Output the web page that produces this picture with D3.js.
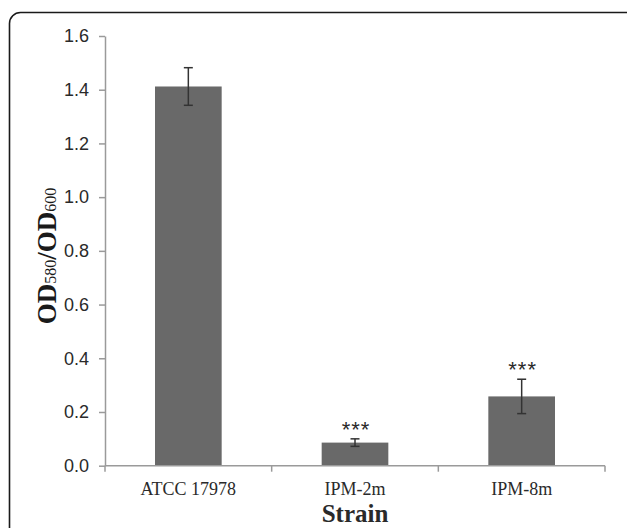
<!DOCTYPE html>
<html>
<head>
<meta charset="utf-8">
<script src="https://cdn.jsdelivr.net/npm/d3@7"></script>
<style>
body { margin: 0; background: #fff; }
</style>
</head>
<body>
<div id="chart"></div>
<script>
// data
var strains = ["ATCC 17978", "IPM-2m", "IPM-8m"];
var odRatio = [1.412, 0.086, 0.258];
var odError = [0.070, 0.014, 0.064];
var signif = ["", "***", "***"];
var yTicks = [0, 0.2, 0.4, 0.6, 0.8, 1.0, 1.2, 1.4, 1.6];

var W = 627, H = 528;

var svg = d3.select("#chart")
    .append("svg")
    .attr("width", W)
    .attr("height", H);

// rounded frame, runs off the bottom/right of the image
svg.append("rect")
    .attr("x", 9.5)
    .attr("y", 12.5)
    .attr("width", 660)
    .attr("height", 560)
    .attr("rx", 11)
    .attr("fill", "none")
    .attr("stroke", "#1a1a1a")
    .attr("stroke-width", 1.6);

// scales
const y = d3.scaleLinear()
    .domain([0, 1.6])
    .range([465.7, 36]);

const xGroup = d3.scaleBand()
    .domain(strains)
    .range([105, 605]);

const x = d3.scaleBand()
    .domain(strains)
    .range([105, 605])
    .paddingInner(0.6)
    .paddingOuter(0.3);

var rows = strains.map(function (s, i) {
    return {name: s, value: odRatio[i], err: odError[i], mark: signif[i]};
});

// y axis
var yAxis = svg.append("g")
    .attr("transform", "translate(105,0)")
    .call(d3.axisLeft(y)
        .tickValues(yTicks)
        .tickFormat(d3.format(".1f"))
        .tickSize(6)
        .tickSizeOuter(0)
        .tickPadding(10));

yAxis.select(".domain").attr("stroke", "#9a9a9a").attr("stroke-width", 1.5);
yAxis.selectAll(".tick line").attr("stroke", "#9a9a9a").attr("stroke-width", 1.5);
yAxis.selectAll(".tick text")
    .attr("fill", "#2a2a2a")
    .attr("font-family", "'Liberation Sans', Arial, sans-serif")
    .attr("font-size", 18);

// bars
svg.append("g").selectAll("rect")
    .data(rows)
    .enter()
    .append("rect")
    .attr("x", function (d) { return x(d.name); })
    .attr("y", function (d) { return y(d.value); })
    .attr("width", x.bandwidth())
    .attr("height", function (d) { return y(0) - y(d.value); })
    .attr("fill", "#696969");

// x axis line + ticks between groups
svg.append("line")
    .attr("x1", 105).attr("x2", 605)
    .attr("y1", y(0)).attr("y2", y(0))
    .attr("stroke", "#9a9a9a")
    .attr("stroke-width", 1.6);

var bounds = strains.map(function (s) { return xGroup(s); }).concat([xGroup.range()[1]]);
svg.append("g").selectAll("line")
    .data(bounds)
    .enter()
    .append("line")
    .attr("x1", function (d) { return d; })
    .attr("x2", function (d) { return d; })
    .attr("y1", y(0))
    .attr("y2", y(0) + 6)
    .attr("stroke", "#9a9a9a")
    .attr("stroke-width", 1.5);

// error bars
var eb = svg.append("g").selectAll("g")
    .data(rows)
    .enter()
    .append("g")
    .attr("stroke", "#333")
    .attr("stroke-width", 1.5);

eb.append("line")
    .attr("x1", function (d) { return x(d.name) + x.bandwidth() / 2; })
    .attr("x2", function (d) { return x(d.name) + x.bandwidth() / 2; })
    .attr("y1", function (d) { return y(d.value + d.err); })
    .attr("y2", function (d) { return y(d.value - d.err); });

eb.selectAll(".cap")
    .data(function (d) { return [d.value + d.err, d.value - d.err].map(function (v) { return {name: d.name, v: v}; }); })
    .enter()
    .append("line")
    .attr("class", "cap")
    .attr("x1", function (d) { return x(d.name) + x.bandwidth() / 2 - 4.5; })
    .attr("x2", function (d) { return x(d.name) + x.bandwidth() / 2 + 4.5; })
    .attr("y1", function (d) { return y(d.v); })
    .attr("y2", function (d) { return y(d.v); });

// significance stars
svg.append("g").selectAll("text")
    .data(rows.filter(function (d) { return d.mark; }))
    .enter()
    .append("text")
    .attr("x", function (d) { return x(d.name) + x.bandwidth() / 2 + 1; })
    .attr("y", function (d) { return y(d.value + d.err) - 2; })
    .attr("text-anchor", "middle")
    .attr("font-family", "'Liberation Sans', Arial, sans-serif")
    .attr("font-size", 22)
    .attr("letter-spacing", 1)
    .attr("fill", "#2a2a2a")
    .text(function (d) { return d.mark; });

// category labels
svg.append("g").selectAll("text")
    .data(strains)
    .enter()
    .append("text")
    .attr("x", function (d) { return xGroup(d) + xGroup.bandwidth() / 2; })
    .attr("y", 495)
    .attr("text-anchor", "middle")
    .attr("font-family", "'Liberation Serif', 'Times New Roman', serif")
    .attr("font-size", 18)
    .attr("fill", "#2a2a2a")
    .text(function (d) { return d; });

// x axis title
svg.append("text")
    .attr("x", 355)
    .attr("y", 522)
    .attr("text-anchor", "middle")
    .attr("font-family", "'Liberation Serif', 'Times New Roman', serif")
    .attr("font-weight", "bold")
    .attr("font-size", 25)
    .attr("fill", "#2a2a2a")
    .text("Strain");

// y axis title with subscripts
var yt = svg.append("text")
    .attr("transform", "translate(56,256) rotate(-90)")
    .attr("text-anchor", "middle")
    .attr("font-family", "'Liberation Serif', 'Times New Roman', serif")
    .attr("font-weight", "bold")
    .attr("font-size", 27)
    .attr("fill", "#1a1a1a");
yt.append("tspan").text("OD");
yt.append("tspan").attr("font-size", 16).attr("font-weight", "normal").text("580");
yt.append("tspan").text("/OD");
yt.append("tspan").attr("font-size", 16).attr("font-weight", "normal").text("600");
</script>
</body>
</html>
